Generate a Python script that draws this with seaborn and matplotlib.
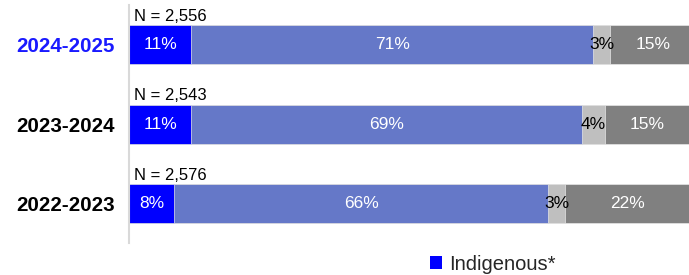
import numpy as np
import pandas as pd
import matplotlib.pyplot as plt
import seaborn as sns
from matplotlib.patches import Patch

# Data
years = ["2024-2025", "2023-2024", "2022-2023"]
n_labels = ["N = 2,556", "N = 2,543", "N = 2,576"]
indigenous = [11, 11, 8]
non_indigenous = [71, 69, 66]
prefer_not = [3, 4, 3]
no_response = [15, 15, 22]

segments = ["Indigenous*", "Non-Indigenous", "Prefer not to answer", "No response"]
colors = ["#0000ff", "#6578c8", "#bfbfbf", "#808080"]
text_colors = ["white", "white", "black", "white"]

df = pd.DataFrame({
    "year": years,
    segments[0]: indigenous,
    segments[1]: non_indigenous,
    segments[2]: prefer_not,
    segments[3]: no_response,
})
# cumulative ends of each segment
cum = df[segments].cumsum(axis=1)

sns.set_style("white")
plt.rcParams["font.family"] = ["Liberation Sans", "DejaVu Sans"]

fig = plt.figure(figsize=(6.89, 2.75), dpi=100)
ax = fig.add_axes([0.1872, 0.1164, 0.822, 0.8655])

# draw from the widest cumulative bar down so segments overlay as a stack
for seg, col in reversed(list(zip(segments, colors))):
    sns.barplot(x=cum[seg], y=df["year"], orient="h", color=col,
                width=0.49, ax=ax, saturation=1, edgecolor="#e6e6e6",
                linewidth=0.5)

for i, yr in enumerate(years):
    start = 0
    for seg, tc in zip(segments, text_colors):
        v = df.loc[i, seg]
        ax.text(start + v / 2, i, f"{v}%", ha="center", va="center",
                color=tc, fontsize=12.5)
        start += v
    ax.text(0.8, i - 0.265, n_labels[i], ha="left", va="bottom",
            fontsize=12, color="black")

ax.set_xlim(0, 100)
ax.set_ylim(2.49, -0.5)
ax.set_xlabel("")
ax.set_ylabel("")
ax.set_xticks([])
ax.tick_params(axis="y", length=0, pad=10, colors="black")
ax.set_yticks(range(len(years)))
ax.set_yticklabels(years, fontsize=14.8, fontweight="bold")
ax.get_yticklabels()[0].set_color("#1a1aff")

for s in ["top", "right", "bottom"]:
    ax.spines[s].set_visible(False)
ax.spines["left"].set_color("#d9d9d9")
ax.spines["left"].set_linewidth(1.5)

handles = [Patch(facecolor=colors[0], edgecolor="none")]
fig.legend(handles, [segments[0]], loc="center left",
           bbox_to_anchor=(0.624, 0.04), frameon=False, fontsize=14.5,
           handlelength=0.6, handleheight=0.6, handletextpad=0.35,
           borderaxespad=0, borderpad=0)

fig.savefig("out.png", dpi=100)
